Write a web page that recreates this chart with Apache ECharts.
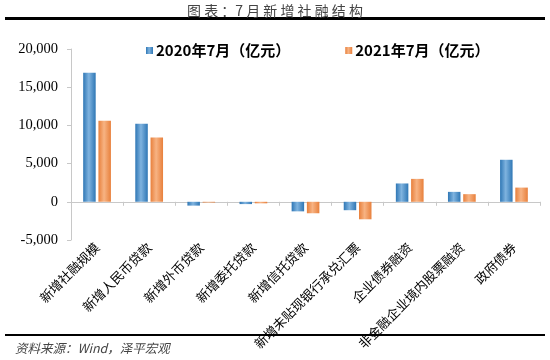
<!DOCTYPE html>
<html><head><meta charset="utf-8">
<script src="https://cdn.jsdelivr.net/npm/echarts@6/dist/echarts.min.js"></script>
<style>html,body{margin:0;padding:0;background:#fff}#c{width:550px;height:360px}</style>
</head><body><div id="c"></div>
<script>
const categories = ['新增社融规模','新增人民币贷款','新增外币贷款','新增委托贷款','新增信托贷款','新增未贴现银行承兑汇票','企业债券融资','非金融企业境内股票融资','政府债券'];
const s2020 = [16900, 10200, -500, -300, -1250, -1100, 2400, 1300, 5500];
const s2021 = [10600, 8400, -100, -200, -1500, -2290, 3000, 1000, 1860];
const seriesNames = ['2020年7月（亿元）','2021年7月（亿元）'];
const yTicks = {min:-5000, max:20000, interval:5000};

const chart = echarts.init(document.getElementById('c'));
function grad(dark, light){
  return new echarts.graphic.LinearGradient(0,0,1,0,[
    {offset:0,color:dark},{offset:0.45,color:light},{offset:1,color:dark}]);
}
chart.setOption({
  animation:false,
  backgroundColor:'#fff',
  title:{text:'图 表 ：7 月 新 增 社 融 结 构',left:'center',top:-1,
    textStyle:{fontSize:14,fontWeight:'normal',color:'#444',fontFamily:'Noto Sans CJK SC'}},
  legend:{top:38,left:141,itemWidth:7,itemHeight:7,itemGap:55,icon:'rect',
    textStyle:{fontSize:15,fontWeight:'bold',color:'#000',fontFamily:'Noto Sans CJK SC',padding:[0,0,0,-2]},
    data:seriesNames},
  grid:{left:71,right:10,top:49,bottom:120,containLabel:false},
  xAxis:{type:'category',data:categories,
    axisLine:{lineStyle:{color:'#c8c8c8'}},
    axisTick:{show:true,length:4,lineStyle:{color:'#c8c8c8'}},
    axisLabel:{rotate:45,interval:0,fontSize:13,color:'#000',margin:5,fontFamily:'Noto Sans CJK SC'}},
  yAxis:{type:'value',min:yTicks.min,max:yTicks.max,interval:yTicks.interval,
    axisLine:{show:true,lineStyle:{color:'#c8c8c8'}},
    axisTick:{show:true,length:4,lineStyle:{color:'#c8c8c8'}},
    splitLine:{show:false},
    axisLabel:{fontSize:14.5,color:'#000',fontFamily:'Liberation Serif',margin:13,
      formatter:v=>v.toLocaleString('en-US')}},
  series:[
    {name:seriesNames[0],type:'bar',data:s2020,barWidth:12.5,barGap:'22%',
      itemStyle:{color:grad('#2f77b5','#7fb3df')}},
    {name:seriesNames[1],type:'bar',data:s2021,barWidth:12.5,
      itemStyle:{color:grad('#e8803c','#f7b383')}}
  ],
  graphic:[
    {type:'rect',shape:{x:5,y:17,width:540,height:3},style:{fill:'#000'}},
    {type:'rect',shape:{x:5,y:334,width:540,height:2},style:{fill:'#000'}},
    {type:'text',left:15,top:342,style:{text:'资料来源：Wind，泽平宏观',fontSize:12.5,fontStyle:'italic',
      fill:'#444',fontFamily:'Noto Sans CJK SC'}}
  ]
});
</script></body></html>
